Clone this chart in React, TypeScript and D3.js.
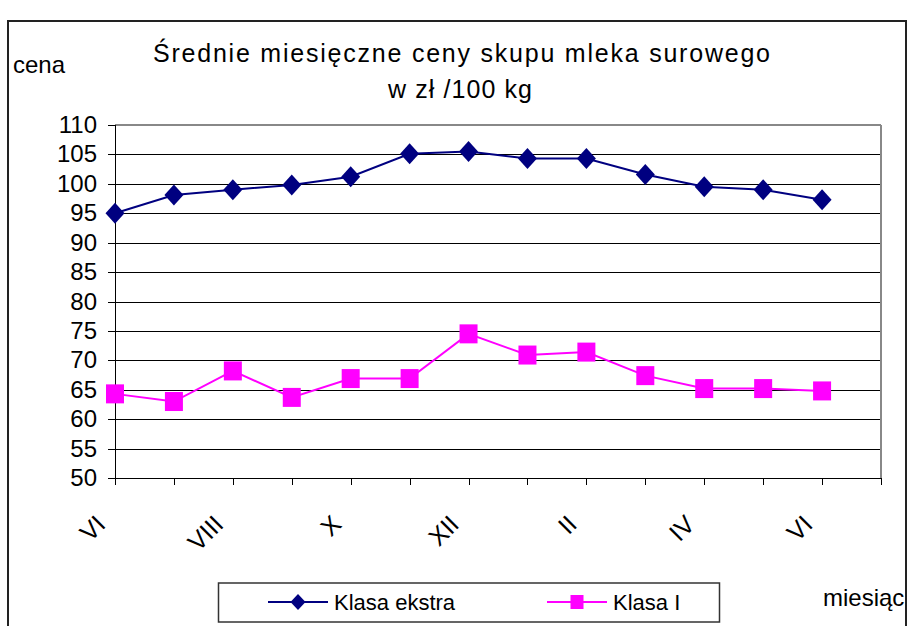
import React from "react";
import * as d3 from "d3";

const months = ["VI", "VII", "VIII", "IX", "X", "XI", "XII", "I", "II", "III", "IV", "V", "VI"];
const klasaEkstra = [95.0, 98.1, 99.0, 99.8, 101.2, 105.1, 105.5, 104.3, 104.3, 101.6, 99.5, 99.0, 97.3];
const klasaI = [64.3, 63.0, 68.2, 63.7, 66.9, 66.9, 74.5, 70.9, 71.4, 67.4, 65.2, 65.2, 64.8];
const yTicks = [50, 55, 60, 65, 70, 75, 80, 85, 90, 95, 100, 105, 110];
const titleLine1 = "Średnie miesięczne ceny skupu mleka surowego";
const titleLine2 = "w zł /100 kg";
const yAxisTitle = "cena";
const xAxisTitle = "miesiąc";
const seriesNames = ["Klasa ekstra", "Klasa I"];

const W = 909;
const H = 626;
const left = 115, right = 881, top = 125, bottom = 478;
const FONT = "'Liberation Sans', Arial, sans-serif";
const NAVY = "#000080";
const MAGENTA = "#FF00FF";

export default function App() {
  const x = d3.scaleLinear().domain([0, months.length]).range([left, right]);
  const y = d3.scaleLinear().domain([50, 110]).range([bottom, top]);
  const line = d3.line<number>().x((_, i) => x(i)).y((d) => y(d));
  const tickIdx = d3.range(months.length + 1);
  const diamond = "M0,-10.5L9.5,0L0,10.5L-9.5,0Z";
  const smallDiamond = "M0,-8L7.5,0L0,8L-7.5,0Z";

  return (
    <svg width={W} height={H} style={{ position: "absolute", left: 0, top: 0, background: "#fff" }} fontFamily={FONT}>
      <rect x={0} y={0} width={W} height={H} fill="#fff" />
      {/* outer border */}
      <rect x={8} y={21} width={898} height={640} fill="none" stroke="#222" strokeWidth={2} />
      {/* titles */}
      <text x={153} y={62} fontSize={25} textLength={617} lengthAdjust="spacing">{titleLine1}</text>
      <text x={388} y={98} fontSize={25} textLength={144} lengthAdjust="spacing">{titleLine2}</text>
      <text x={13} y={73} fontSize={24}>{yAxisTitle}</text>
      <text x={823} y={606} fontSize={24}>{xAxisTitle}</text>
      {/* gridlines */}
      {yTicks.filter((t) => t > 50 && t < 110).map((t) => (
        <line key={"g" + t} x1={left} x2={right} y1={Math.round(y(t)) + 0.5} y2={Math.round(y(t)) + 0.5} stroke="#000" strokeWidth={1} />
      ))}
      {/* plot border top/right */}
      <line x1={left} x2={right} y1={top} y2={top} stroke="#888" strokeWidth={2} />
      <line x1={right} x2={right} y1={top} y2={bottom} stroke="#888" strokeWidth={2} />
      {/* y axis */}
      <line x1={left + 0.5} x2={left + 0.5} y1={top} y2={bottom} stroke="#000" strokeWidth={1} />
      {yTicks.map((t) => (
        <g key={"y" + t}>
          <line x1={108} x2={left} y1={Math.round(y(t)) + 0.5} y2={Math.round(y(t)) + 0.5} stroke="#000" strokeWidth={1} />
          <text x={97} y={y(t) + 8} fontSize={24} textAnchor="end">{t}</text>
        </g>
      ))}
      {/* x axis */}
      <line x1={left} x2={right} y1={bottom + 0.5} y2={bottom + 0.5} stroke="#000" strokeWidth={1} />
      {tickIdx.map((i) => (
        <line key={"xt" + i} x1={Math.round(x(i)) + 0.5} x2={Math.round(x(i)) + 0.5} y1={bottom} y2={bottom + 7} stroke="#000" strokeWidth={1} />
      ))}
      {months.map((m, i) => (i % 2 === 0 ? (
        <text key={"xl" + i} transform={`translate(${x(i) - 8},${526}) rotate(-45)`} fontSize={25} textAnchor="end">{m}</text>
      ) : null))}
      {/* series */}
      <path d={line(klasaEkstra) || ""} fill="none" stroke={NAVY} strokeWidth={2} />
      <path d={line(klasaI) || ""} fill="none" stroke={MAGENTA} strokeWidth={2} />
      {klasaEkstra.map((v, i) => (
        <path key={"d" + i} d={diamond} transform={`translate(${x(i)},${y(v)})`} fill={NAVY} />
      ))}
      {klasaI.map((v, i) => (
        <rect key={"s" + i} x={x(i) - 9} y={y(v) - 9.5} width={18} height={19} fill={MAGENTA} />
      ))}
      {/* legend */}
      <rect x={218.5} y={583} width={501} height={39} fill="#fff" stroke="#333" strokeWidth={1.5} />
      <line x1={268} x2={328} y1={602} y2={602} stroke={NAVY} strokeWidth={2} />
      <path d={smallDiamond} transform="translate(298,602)" fill={NAVY} />
      <text x={334} y={610} fontSize={22}>{seriesNames[0]}</text>
      <line x1={547} x2={607} y1={602} y2={602} stroke={MAGENTA} strokeWidth={2} />
      <rect x={570.5} y={595} width={13} height={14} fill={MAGENTA} />
      <text x={613} y={610} fontSize={22}>{seriesNames[1]}</text>
    </svg>
  );
}
